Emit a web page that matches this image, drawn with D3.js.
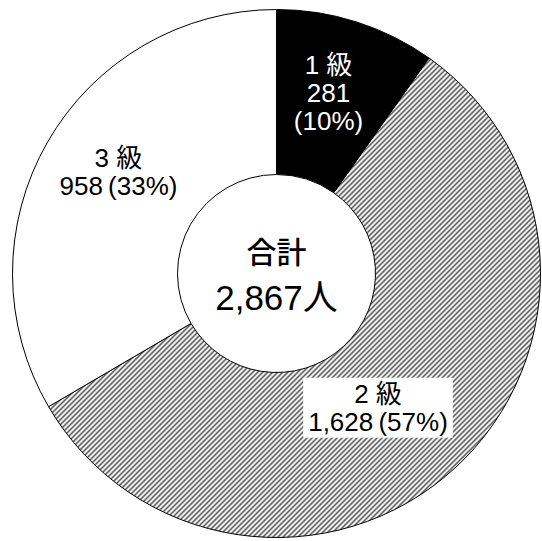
<!DOCTYPE html>
<html>
<head>
<meta charset="utf-8">
<script src="https://cdn.jsdelivr.net/npm/d3@7"></script>
<style>
  html, body { margin: 0; padding: 0; background: #fff; }
  text { font-family: "Liberation Sans", "Noto Sans CJK JP", sans-serif; }
</style>
</head>
<body>
<div id="chart"></div>
<script>
// data
var grades = ['1 級', '2 級', '3 級'];
var counts = [281, 1628, 958];
var shares = ['10%', '57%', '33%'];
var totalLabel = ['合計', '2,867人'];

var svgWidth = 542, svgHeight = 541;
var cx = 276.5, cy = 273.5;
var outerR = 264, innerR = 99;

var svg = d3.select('#chart').append('svg')
    .attr('width', svgWidth)
    .attr('height', svgHeight);

// diagonal hatch for the 2級 slice
var defs = svg.append('defs');
defs.append('pattern')
    .attr('id', 'hatch')
    .attr('patternUnits', 'userSpaceOnUse')
    .attr('width', 5)
    .attr('height', 5)
  .append('path')
    .attr('d', 'M0,5 L5,0 M-1,1 L1,-1 M4,6 L6,4')
    .attr('stroke', '#000')
    .attr('stroke-width', 1.1);

var fills = ['#000', 'url(#hatch)', '#fff'];

var g = svg.append('g')
    .attr('transform', 'translate(' + cx + ',' + cy + ')');

var pie = d3.pie()
    .value(d => d)
    .sort(null);

var arc = d3.arc()
    .innerRadius(innerR)
    .outerRadius(outerR);

var arcs = pie(counts);

g.selectAll('path.slice')
    .data(arcs)
  .enter().append('path')
    .attr('class', 'slice')
    .attr('d', arc)
    .attr('fill', (d, i) => fills[i])
    .attr('stroke', '#000')
    .attr('stroke-width', 1);

// label placement: radius along the slice middle, plus a small nudge
var labelR = [188, 168, 188];
var labelShift = [[-5, -2], [-12, 10], [5, -8]];
var fs = 26;
var lh = 28;

arcs.forEach(function (d, i) {
    var a = (d.startAngle + d.endAngle) / 2;
    var x = Math.sin(a) * labelR[i] + labelShift[i][0];
    var y = -Math.cos(a) * labelR[i] + labelShift[i][1];
    var lines;
    if (i === 0) {
        lines = [grades[i], d3.format(',')(counts[i]), '(' + shares[i] + ')'];
    } else {
        lines = [grades[i], d3.format(',')(counts[i]) + '\u2009(' + shares[i] + ')'];
    }
    var t = g.append('text')
        .attr('text-anchor', 'middle')
        .attr('font-size', fs)
        .attr('fill', i === 0 ? '#fff' : '#000');
    lines.forEach(function (s, k) {
        t.append('tspan')
            .attr('x', x)
            .attr('y', y + (k - (lines.length - 1) / 2) * lh + fs * 0.36)
            .text(s);
    });
    if (i === 1) {
        var bb = t.node().getBBox();
        g.insert('rect', 'text')
            .attr('x', bb.x - 5)
            .attr('y', bb.y - 1)
            .attr('width', bb.width + 10)
            .attr('height', bb.height + 2)
            .attr('fill', '#fff');
    }
});

// centre total
var c = g.append('text')
    .attr('text-anchor', 'middle')
    .attr('fill', '#000');
c.append('tspan')
    .attr('x', 0)
    .attr('y', -11)
    .attr('font-size', 30)
    .attr('font-family', '"Noto Sans CJK JP", sans-serif')
    .attr('font-weight', 500)
    .text(totalLabel[0]);
c.append('tspan')
    .attr('x', 0)
    .attr('y', 36.5)
    .attr('font-size', 35)
    .text(totalLabel[1]);
</script>
</body>
</html>
